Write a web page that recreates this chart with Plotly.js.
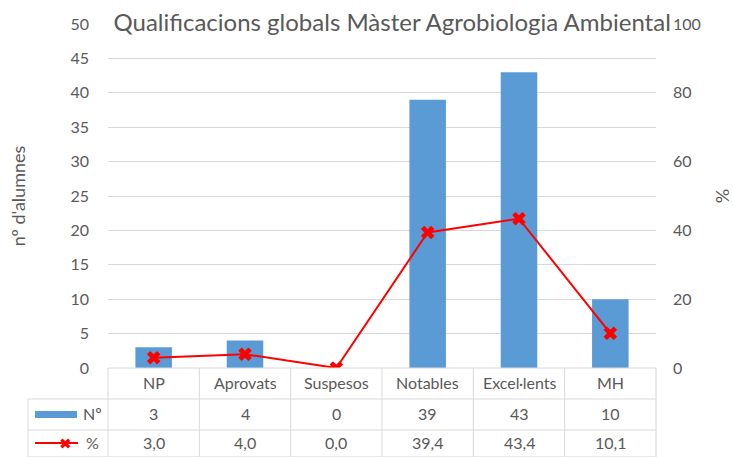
<!DOCTYPE html>
<html><head><meta charset="utf-8">
<script src="https://cdn.plot.ly/plotly-3.0.1.min.js"></script>
<style>body{margin:0;background:#fff}#c{width:733px;height:457px}</style>
</head><body><div id="c"></div>
<script>
const categories = ["NP","Aprovats","Suspesos","Notables","Excel·lents","MH"];
const counts = [3,4,0,39,43,10];
const percents = [3.0,4.0,0.0,39.4,43.4,10.1];
const seriesNames = ["Nº","%"];

const FONT = "Lato, 'Open Sans', sans-serif";
const GRAY = "#595959";
const LINE = "#D9D9D9";
const fmt = v => v.toFixed(1).replace(".", ",");

const traces = [
  {type:"bar", x:categories, y:counts, name:seriesNames[0], marker:{color:"#5B9BD5"}, yaxis:"y"},
  {type:"scatter", mode:"lines+markers", x:categories, y:percents, name:seriesNames[1], yaxis:"y2",
   line:{color:"#FF0000", width:2}, marker:{symbol:"x", size:12, color:"#FF0000"}}
];

const plotH = 344.3, rowY = [-15/plotH, -46/plotH, -75/plotH];
const lx = (28-108)/548;
const shapes = [];
const annotations = [];
[{y:0, x0:0}, {y:-31/plotH, x0:lx}, {y:-62/plotH, x0:lx}, {y:-89/plotH, x0:lx}].forEach(h=>{
  shapes.push({type:"line", xref:"paper", yref:"paper", x0:h.x0, x1:1, y0:h.y, y1:h.y, line:{color:LINE,width:1}});
});
for (let i=0;i<=categories.length;i++){
  shapes.push({type:"line", xref:"paper", yref:"paper", x0:i/categories.length, x1:i/categories.length, y0:0, y1:-89/plotH, line:{color:LINE,width:1}});
}
shapes.push({type:"line", xref:"paper", yref:"paper", x0:lx, x1:lx, y0:-31/plotH, y1:-89/plotH, line:{color:LINE,width:1}});
shapes.push({type:"rect", xref:"paper", yref:"paper", x0:(35-108)/548, x1:(77-108)/548, y0:-43/plotH, y1:-50/plotH, fillcolor:"#5B9BD5", line:{width:0}});
shapes.push({type:"line", xref:"paper", yref:"paper", x0:(35-108)/548, x1:(78-108)/548, y0:rowY[2], y1:rowY[2], line:{color:"#FF0000", width:2}});
annotations.push({xref:"paper", yref:"paper", x:(56.5-108)/548, y:rowY[2], yanchor:"middle", text:"✖", showarrow:false, font:{color:"#FF0000", size:15}});
annotations.push({xref:"paper", yref:"paper", x:(81-108)/548, y:rowY[1], xanchor:"left", yanchor:"middle", text:seriesNames[0], showarrow:false, font:{family:FONT, color:GRAY, size:16}});
annotations.push({xref:"paper", yref:"paper", x:(84-108)/548, y:rowY[2], xanchor:"left", yanchor:"middle", text:seriesNames[1], showarrow:false, font:{family:FONT, color:GRAY, size:16}});

categories.forEach((c,i)=>{
  annotations.push({xref:"x", yref:"paper", x:c, y:rowY[0], yanchor:"middle", text:c, showarrow:false, font:{family:FONT, color:GRAY, size:16}});
  annotations.push({xref:"x", yref:"paper", x:c, y:rowY[1], yanchor:"middle", text:String(counts[i]), showarrow:false, font:{family:FONT, color:GRAY, size:16}});
  annotations.push({xref:"x", yref:"paper", x:c, y:rowY[2], yanchor:"middle", text:fmt(percents[i]), showarrow:false, font:{family:FONT, color:GRAY, size:16}});
});

const layout = {
  width:733, height:457,
  margin:{l:108, r:77, t:23.7, b:89},
  paper_bgcolor:"#fff", plot_bgcolor:"#fff",
  showlegend:false,
  bargap:0.6,
  title:{text:"Qualificacions globals Màster Agrobiologia Ambiental", font:{family:FONT, size:24, color:GRAY}, x:0.535, xanchor:"center", y:0.95, yanchor:"middle"},
  xaxis:{showticklabels:false, showgrid:false, zeroline:false, showline:false, ticks:"", fixedrange:true},
  yaxis:{range:[0,50], dtick:5, showgrid:true, gridcolor:LINE, zeroline:false, showline:false, ticks:"",
    tickfont:{family:FONT, size:16, color:GRAY}, ticklabelstandoff:18,
    title:{text:"nº d'alumnes", font:{family:FONT, size:18, color:GRAY}, standoff:40}},
  yaxis2:{range:[0,100], dtick:20, overlaying:"y", side:"right", showgrid:false, zeroline:false, showline:false, ticks:"",
    tickfont:{family:FONT, size:16, color:GRAY}, ticklabelstandoff:16,
    title:{text:"%", font:{family:FONT, size:18, color:GRAY}, standoff:18}},
  shapes:shapes, annotations:annotations
};
Plotly.newPlot("c", traces, layout, {displayModeBar:false, staticPlot:true});
</script></body></html>
